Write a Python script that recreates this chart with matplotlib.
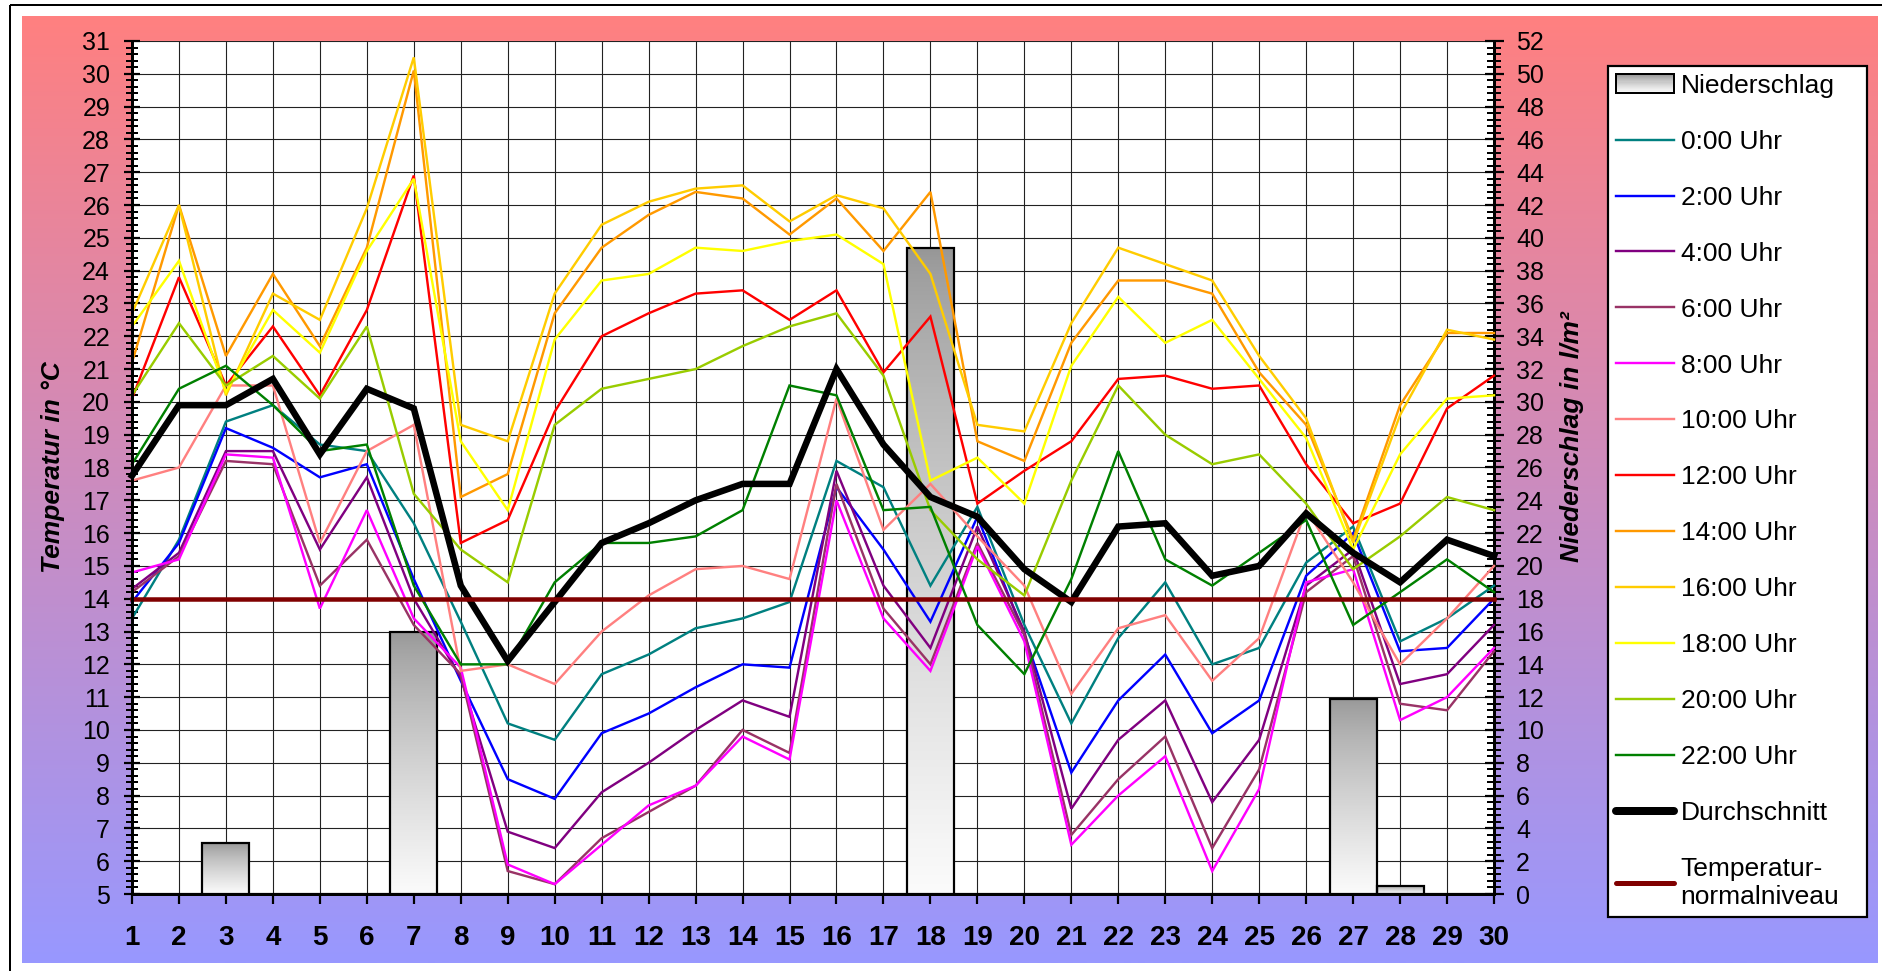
import numpy as np
import matplotlib
matplotlib.use("Agg")
import matplotlib.pyplot as plt
from matplotlib.ticker import MultipleLocator
from matplotlib.patches import Rectangle
from matplotlib.lines import Line2D
from matplotlib.legend_handler import HandlerBase
from matplotlib.colors import LinearSegmentedColormap

plt.rcParams['font.family'] = ['Liberation Sans', 'DejaVu Sans']

# ---------------- data ----------------
days = list(range(1, 31))
day_labels = [str(d) for d in days]

precip = [0, 0, 3.1, 0, 0, 0, 16.0, 0, 0, 0, 0, 0, 0, 0, 0,
          0, 0, 39.4, 0, 0, 0, 0, 0, 0, 0, 0, 11.9, 0.5, 0, 0]

t00 = [13.4, 15.8, 19.4, 19.9, 18.7, 18.5, 16.3, 13.3, 10.2, 9.7, 11.7, 12.3, 13.1, 13.4, 13.9,
       18.2, 17.4, 14.4, 16.8, 13.2, 10.2, 12.8, 14.5, 12.0, 12.5, 15.1, 16.2, 12.7, 13.4, 14.4]
t02 = [13.9, 15.7, 19.2, 18.6, 17.7, 18.1, 14.6, 11.5, 8.5, 7.9, 9.9, 10.5, 11.3, 12.0, 11.9,
       17.4, 15.5, 13.3, 16.5, 12.9, 8.7, 10.9, 12.3, 9.9, 10.9, 14.7, 16.0, 12.4, 12.5, 14.0]
t04 = [14.3, 15.4, 18.5, 18.5, 15.5, 17.7, 14.0, 11.6, 6.9, 6.4, 8.1, 9.0, 10.0, 10.9, 10.4,
       17.9, 14.4, 12.5, 16.2, 13.0, 7.6, 9.7, 10.9, 7.8, 9.7, 14.4, 15.5, 11.4, 11.7, 13.2]
t06 = [14.2, 15.3, 18.2, 18.1, 14.4, 15.8, 13.2, 11.7, 5.7, 5.3, 6.7, 7.5, 8.3, 10.0, 9.3,
       17.5, 13.7, 12.0, 15.7, 12.9, 6.8, 8.5, 9.8, 6.4, 8.8, 14.2, 15.3, 10.8, 10.6, 12.4]
t08 = [14.8, 15.2, 18.4, 18.3, 13.7, 16.7, 13.4, 11.9, 5.9, 5.3, 6.5, 7.7, 8.3, 9.8, 9.1,
       17.0, 13.4, 11.8, 15.6, 12.7, 6.5, 8.0, 9.2, 5.7, 8.2, 14.5, 14.9, 10.3, 11.0, 12.5]
t10 = [17.6, 18.0, 20.5, 20.5, 15.7, 18.5, 19.3, 11.8, 12.0, 11.4, 13.0, 14.1, 14.9, 15.0, 14.6,
       20.1, 16.1, 17.5, 15.9, 14.4, 11.1, 13.1, 13.5, 11.5, 12.8, 16.7, 14.5, 12.0, 13.4, 15.0]
t12 = [20.1, 23.8, 20.5, 22.3, 20.2, 22.8, 26.9, 15.7, 16.4, 19.7, 22.0, 22.7, 23.3, 23.4, 22.5,
       23.4, 20.9, 22.6, 16.9, 17.9, 18.8, 20.7, 20.8, 20.4, 20.5, 18.1, 16.3, 16.9, 19.8, 20.8]
t14 = [21.2, 26.0, 21.4, 23.9, 21.7, 24.7, 30.1, 17.1, 17.8, 22.7, 24.7, 25.7, 26.4, 26.2, 25.1,
       26.2, 24.6, 26.4, 18.8, 18.2, 21.8, 23.7, 23.7, 23.3, 20.9, 19.3, 15.8, 19.9, 22.1, 22.1]
t16 = [22.7, 26.0, 20.2, 23.3, 22.5, 25.9, 30.5, 19.3, 18.8, 23.3, 25.4, 26.1, 26.5, 26.6, 25.5,
       26.3, 25.9, 23.9, 19.3, 19.1, 22.4, 24.7, 24.2, 23.7, 21.4, 19.5, 15.7, 19.6, 22.2, 21.9]
t18 = [22.3, 24.3, 20.3, 22.8, 21.5, 24.6, 26.8, 18.8, 16.7, 21.9, 23.7, 23.9, 24.7, 24.6, 24.9,
       25.1, 24.2, 17.6, 18.3, 16.9, 21.1, 23.2, 21.8, 22.5, 20.7, 18.9, 15.5, 18.4, 20.1, 20.2]
t20 = [20.2, 22.4, 20.5, 21.4, 20.1, 22.3, 17.2, 15.5, 14.5, 19.3, 20.4, 20.7, 21.0, 21.7, 22.3,
       22.7, 20.8, 16.7, 15.2, 14.1, 17.6, 20.5, 19.0, 18.1, 18.4, 16.9, 14.9, 15.9, 17.1, 16.7]
t22 = [18.1, 20.4, 21.1, 19.9, 18.5, 18.7, 14.4, 12.0, 12.0, 14.5, 15.7, 15.7, 15.9, 16.7, 20.5,
       20.2, 16.7, 16.8, 13.2, 11.7, 14.6, 18.5, 15.2, 14.4, 15.4, 16.4, 13.2, 14.2, 15.2, 14.2]
average = [17.75, 19.9, 19.9, 20.7, 18.4, 20.4, 19.8, 14.4, 12.1, 13.9, 15.7, 16.3, 17.0, 17.5, 17.5,
           21.0, 18.7, 17.1, 16.5, 14.9, 13.9, 16.2, 16.3, 14.7, 15.0, 16.6, 15.4, 14.5, 15.8, 15.3]
normal_level = 14.0

hour_labels = ['0:00 Uhr', '2:00 Uhr', '4:00 Uhr', '6:00 Uhr', '8:00 Uhr', '10:00 Uhr',
               '12:00 Uhr', '14:00 Uhr', '16:00 Uhr', '18:00 Uhr', '20:00 Uhr', '22:00 Uhr']
hour_series = [t00, t02, t04, t06, t08, t10, t12, t14, t16, t18, t20, t22]
hour_colors = ['#008080', '#0000FF', '#800080', '#993366', '#FF00FF', '#FF8080',
               '#FF0000', '#FF9900', '#FFCC00', '#FFFF00', '#99CC00', '#008000']

# ---------------- figure ----------------
W, H = 1883, 971
PX = 0.72  # points per pixel at dpi=100
fig = plt.figure(figsize=(W / 100, H / 100), dpi=100)

# background gradient + frame
bg = fig.add_axes([0, 0, 1, 1])
bg.set_zorder(0)
bg.set_xlim(0, W)
bg.set_ylim(H, 0)
bg.axis('off')
top_c = np.array([255, 128, 128]) / 255.0
bot_c = np.array([152, 152, 255]) / 255.0
tt = np.linspace(0, 1, 256)[:, None]
grad_bg = (top_c[None, :] * (1 - tt) + bot_c[None, :] * tt)[:, None, :]
bg.imshow(grad_bg, extent=(22, 1878, 963, 16), aspect='auto', interpolation='bilinear')
bg.add_patch(Rectangle((10, 5), 1950, 1050, fill=False, edgecolor='black', lw=2 * PX))

# plot axes
x0, x1, y0, y1 = 132, 1494, 41, 894
ax = fig.add_axes([x0 / W, 1 - y1 / H, (x1 - x0) / W, (y1 - y0) / H])
ax2 = ax.twinx()
ax2.set_zorder(1)
ax.set_zorder(2)
ax.patch.set_visible(False)
ax2.patch.set_visible(True)
ax2.patch.set_facecolor('white')
ax2.xaxis.set_visible(True)
ax2.tick_params(axis='x', which='both', bottom=False, top=False, labelbottom=False, labeltop=False)

# grid (on the lower axes, below bars)
ax2.set_axisbelow(True)
ax2.yaxis.set_major_locator(MultipleLocator(2))
ax2.yaxis.set_minor_locator(MultipleLocator(0.4))
ax2.grid(True, which='major', axis='both', color='#222222', lw=1.1 * PX)

# bars with gradient
bars = ax2.bar(days, precip, width=1.0, facecolor='none', edgecolor='black', lw=2.2 * PX, zorder=3)
bar_cmap = LinearSegmentedColormap.from_list('bargrad', ['#fbfbfb', '#969696'])
bgrad = (1 - np.linspace(0, 1, 256) ** 0.75)[:, None]
for rect in bars.patches:
    h = rect.get_height()
    if h <= 0:
        continue
    bx = rect.get_x()
    bw = rect.get_width()
    ax2.imshow(bgrad, extent=(bx, bx + bw, 0, h), aspect='auto', cmap=bar_cmap,
               vmin=0, vmax=1, zorder=2, interpolation='bilinear')

# lines
for lab, vals, col in zip(hour_labels, hour_series, hour_colors):
    ax.plot(days, vals, color=col, lw=2.4 * PX, clip_on=False, solid_joinstyle='miter')
ax.plot(days, average, color='black', lw=6.5 * PX, clip_on=False, solid_joinstyle='miter')
ax.plot(days, [normal_level] * len(days), color='#800000', lw=4.5 * PX, clip_on=False)

# limits
ax.set_xlim(1, 30)
ax.set_ylim(5, 31)
ax2.set_ylim(0, 52)

# ticks
ax.set_xticks(days, labels=day_labels)
for t in ax.get_xticklabels():
    t.set_fontweight('bold')
ax.tick_params(axis='x', which='major', direction='out', length=10 * PX, width=2.2 * PX,
               labelsize=20, pad=15)
ax.yaxis.set_major_locator(MultipleLocator(1))
ax.yaxis.set_minor_locator(MultipleLocator(0.2))
ax.tick_params(axis='y', which='major', direction='inout', length=16 * PX, width=2.2 * PX,
               labelsize=18, pad=10)
ax.tick_params(axis='y', which='minor', direction='inout', length=12 * PX, width=2 * PX)
ax2.tick_params(axis='y', which='major', direction='inout', length=19 * PX, width=2.2 * PX,
                labelsize=18, pad=9)
ax2.tick_params(axis='y', which='minor', direction='inout', length=14 * PX, width=2 * PX)

# spines
for s in ['top', 'right']:
    ax.spines[s].set_visible(False)
for s in ['left', 'bottom']:
    ax.spines[s].set_linewidth(3 * PX)
for s in ['top', 'left', 'bottom']:
    ax2.spines[s].set_visible(False)
ax2.spines['right'].set_linewidth(3 * PX)

# axis labels
ax.set_ylabel('Temperatur in °C', fontsize=19, fontweight='bold', fontstyle='italic')
ax.yaxis.label.set_va('center')
ax.yaxis.set_label_coords(-0.058, 0.5)
ax2.set_ylabel('Niederschlag in l/m²', fontsize=19, fontweight='bold', fontstyle='italic',
               rotation=90)
ax2.yaxis.label.set_va('center')
ax2.yaxis.set_label_coords(1.057, 0.536)


# legend
class GradientHandler(HandlerBase):
    def create_artists(self, legend, orig_handle, xdescent, ydescent, width, height,
                       fontsize, trans):
        arts = []
        n = 16
        for i in range(n):
            t = (i + 0.5) / n
            v = 1 - t ** 0.75
            col = bar_cmap(v)
            arts.append(Rectangle((-xdescent, -ydescent + height * (1 - (i + 1) / n)),
                                  width, height / n, facecolor=col, edgecolor='none',
                                  transform=trans))
        arts.append(Rectangle((-xdescent, -ydescent), width, height, facecolor='none',
                              edgecolor='black', lw=2 * PX, transform=trans))
        return arts


bar_proxy = Rectangle((0, 0), 1, 1)
handles = [bar_proxy]
labels = ['Niederschlag']
for lab, col in zip(hour_labels, hour_colors):
    handles.append(Line2D([], [], color=col, lw=2.4 * PX))
    labels.append(lab)
handles.append(Line2D([], [], color='black', lw=8 * PX, solid_capstyle='round'))
labels.append('Durchschnitt')
handles.append(Line2D([], [], color='#800000', lw=5 * PX, solid_capstyle='round'))
labels.append('Temperatur-\nnormalniveau')

leg = fig.legend(handles, labels, loc='upper left',
                 bbox_to_anchor=(1608 / W, 1 - 66 / H, 259 / W, 0), mode='expand',
                 borderaxespad=0, frameon=True, fancybox=False, framealpha=1,
                 edgecolor='black', facecolor='white', prop={'size': 19},
                 labelspacing=1.21, handlelength=2.2, handletextpad=0.25, borderpad=0.3,
                 handler_map={bar_proxy: GradientHandler()})
leg.get_frame().set_linewidth(2.2 * PX)
leg.set_zorder(5)

fig.savefig('out.png', dpi=100)
